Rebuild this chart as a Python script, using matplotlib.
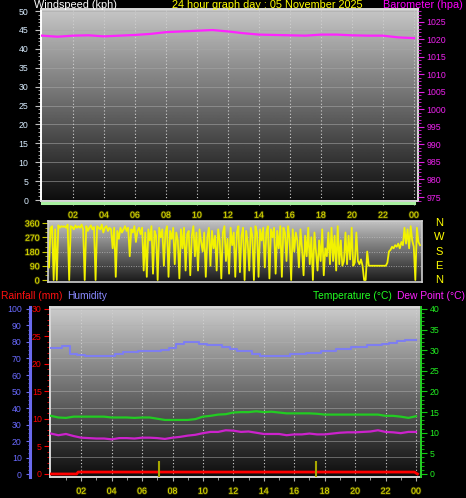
import numpy as np
import matplotlib
matplotlib.use("Agg")
import matplotlib.pyplot as plt
import matplotlib.patheffects as pe
from matplotlib.transforms import blended_transform_factory, ScaledTranslation

plt.rcParams['font.family'] = ['Liberation Sans', 'DejaVu Sans']

# ---------------- data ----------------
hour_ticks = [2, 4, 6, 8, 10, 12, 14, 16, 18, 20, 22, 24]
hour_labels = ['02', '04', '06', '08', '10', '12', '14', '16', '18', '20', '22', '00']

baro_hours = list(range(25))
baro_hpa = [1021.0, 1020.7, 1021.0, 1021.1, 1020.8, 1021.0, 1021.2, 1021.5, 1022.0,
            1022.2, 1022.4, 1022.6, 1022.2, 1021.7, 1021.3, 1021.2, 1021.1, 1021.0,
            1021.3, 1021.3, 1021.1, 1021.0, 1021.0, 1020.5, 1020.3]
wind_kph = [0] * 25

wind_dir = [
    80, 330, 340, 0, 320, 0, 345, 330, 340, 335,
    340, 330, 350, 0, 340, 335, 320, 345, 330, 340,
    330, 350, 320, 0, 340, 310, 330, 345, 320, 335,
    0, 340, 330, 320, 350, 300, 330, 340, 310, 330,
    320, 200, 330, 20, 310, 260, 330, 300, 320, 340,
    310, 330, 150, 320, 300, 340, 240, 310, 330, 290,
    330, 60, 300, 20, 320, 250, 340, 40, 310, 280,
    0, 330, 270, 320, 90, 300, 340, 20, 310, 260,
    330, 100, 300, 250, 10, 320, 200, 330, 60, 290,
    310, 30, 280, 340, 150, 300, 60, 320, 240, 180,
    300, 20, 270, 330, 90, 310, 200, 280, 60, 320,
    250, 10, 300, 340, 120, 260, 40, 330, 220, 300,
    20, 300, 340, 50, 280, 330, 0, 310, 240, 60,
    330, 280, 0, 340, 300, 20, 320, 250, 330, 80,
    300, 340, 10, 320, 270, 330, 40, 310, 200, 340,
    20, 330, 300, 120, 340, 260, 0, 320, 180, 300,
    250, 80, 320, 200, 30, 280, 150, 330, 100, 270,
    0, 300, 180, 60, 250, 120, 320, 30, 200, 150,
    300, 100, 330, 120, 280, 60, 340, 100, 250, 90,
    120, 300, 100, 280, 130, 330, 90, 110, 300, 120,
    100, 130, 90, 0, 0, 180, 90, 90, 90, 90,
    90, 90, 90, 90, 90, 90, 90, 90, 110, 180,
    190, 210, 200, 220, 210, 230, 200, 240, 220, 330,
    230, 320, 200, 340, 250, 210, 0, 330, 240, 220,
]
wind_dir_hours = np.linspace(0, 24, len(wind_dir))

half_hours = np.arange(0, 24.5, 0.5)
humidity = [76.5, 76.5, 77.5, 73.0, 72.0, 71.5, 71.5, 71.5, 71.5, 72.5, 73.8, 74.0,
            74.7, 74.7, 74.7, 75.2, 76.5, 78.5, 79.8, 80.0, 79.0, 78.0, 78.0, 77.0,
            75.5, 74.7, 74.7, 72.5, 71.8, 71.5, 71.5, 71.5, 72.5, 72.5, 73.5, 73.5,
            74.7, 74.7, 76.0, 76.0, 77.2, 77.2, 78.0, 78.0, 78.5, 79.6, 80.5, 81.0, 81.0]
temperature = [14.1, 13.7, 13.6, 13.9, 13.9, 13.9, 13.9, 13.9, 13.7, 13.7, 13.7, 13.6,
               13.7, 13.7, 13.4, 13.1, 13.1, 13.1, 13.1, 13.3, 13.9, 14.1, 14.4, 14.5,
               14.9, 15.0, 15.0, 15.2, 15.0, 15.1, 14.9, 14.7, 14.7, 14.7, 14.7, 14.6,
               14.4, 14.4, 14.4, 14.4, 14.4, 14.4, 14.4, 14.4, 14.1, 14.1, 13.9, 13.6, 14.0]
dewpoint = [9.8, 9.4, 9.7, 9.2, 8.8, 8.7, 8.6, 8.6, 8.4, 8.7, 8.7, 8.6,
            8.8, 8.8, 8.7, 8.5, 8.8, 9.0, 9.3, 9.5, 9.9, 10.2, 10.2, 10.6,
            10.5, 10.2, 10.3, 10.0, 9.7, 9.7, 9.7, 9.4, 9.6, 9.6, 9.8, 9.6,
            9.6, 9.8, 10.0, 10.1, 10.1, 10.2, 10.3, 10.6, 10.2, 10.1, 9.9, 10.2, 10.2]
rain_hours = [0, 1.7, 1.8, 23.9, 24.1]
rain_mm = [0, 0, 0.35, 0.35, 0]
rainrate_hours = [7.08, 17.4]
rainrate_vals = [2.4, 2.4]

# ---------------- figure ----------------
W, H = 466, 498
fig = plt.figure(figsize=(W / 100, H / 100), dpi=100, facecolor='black')


def rect(l, t, r, b):
    return [l / W, 1 - b / H, (r - l) / W, (b - t) / H]


def gradient(ax, xl, yl, top, bot):
    g = np.linspace(top, bot, 256).reshape(-1, 1)
    ax.imshow(g, cmap='gray', vmin=0, vmax=1, extent=[xl[0], xl[1], yl[0], yl[1]],
              aspect='auto', origin='upper', zorder=0, interpolation='bilinear')
    ax.set_xlim(*xl)
    ax.set_ylim(*yl)


YEL = '#f0f000'
stroke = [pe.withStroke(linewidth=1.2, foreground='#3a3a00')]
TICKFS = 6.3
HDRFS = 7.8
BHDRFS = 7.4

# ---- top panel: wind speed / barometer ----
ax1 = fig.add_axes(rect(41, 9, 418, 201))
xl1 = (-0.065, 24.26)
yl1 = (-0.25, 50.54)
gradient(ax1, xl1, yl1, 0.78, 0.05)
for v in range(0, 51, 5):
    ax1.axhline(v, color='#a8a8a8', lw=0.7, alpha=0.55, zorder=1)
for h in hour_ticks:
    ax1.axvline(h, color='#d0d0d0', lw=0.8, ls=(0, (1, 2)), zorder=1)
ax1.plot(baro_hours, wind_kph, color='#a8f0a0', lw=2.2, zorder=3, clip_on=False,
         transform=ax1.transData + ScaledTranslation(0, -3 / 100, fig.dpi_scale_trans))
ax1.set_yticks(range(0, 51, 5))
ax1.set_yticks(range(0, 51, 1), minor=True)
ax1.set_xticks(hour_ticks)
ax1.set_xticklabels(hour_labels)
ax1.set_xticks(range(1, 25), minor=True)
ax1.tick_params(axis='y', which='both', colors='#c0c0c0', labelcolor='#d8ecff',
                labelsize=TICKFS, length=4, pad=5)
ax1.tick_params(axis='y', which='minor', length=2)
ax1.tick_params(axis='x', which='both', colors='#b0b0b0', labelcolor=YEL,
                labelsize=TICKFS, length=3, pad=4)
ax1.tick_params(axis='x', which='minor', length=2)
for t in ax1.get_xticklabels():
    t.set_path_effects(stroke)
for s in ax1.spines.values():
    s.set_color('#d8d8d8')
    s.set_linewidth(1.4)
ax1.spines['left'].set_color('white')

ax1b = ax1.twinx()
ax1b.set_ylim(973.86, 1028.6)
ax1b.plot(baro_hours, baro_hpa, color='#ff22ff', lw=1.6, zorder=3)
ax1b.set_yticks(range(975, 1026, 5))
ax1b.set_yticks(range(974, 1029, 1), minor=True)
ax1b.tick_params(axis='y', which='both', colors='#e020e0', labelcolor='#ee22ee',
                 labelsize=TICKFS, length=4, pad=2)
ax1b.tick_params(axis='y', which='minor', length=2)
for s in ax1b.spines.values():
    s.set_visible(False)

fig.text(34 / W, 1 - 8 / H, 'Windspeed (kph)', color='white', fontsize=HDRFS,
         va='baseline')
fig.text(172 / W, 1 - 8 / H, '24 hour graph day : 05 November 2025', color='#ffff00',
         fontsize=HDRFS, va='baseline')
fig.text(463 / W, 1 - 8 / H, 'Barometer (hpa)', color='#ff00ff', fontsize=HDRFS,
         va='baseline', ha='right')

# ---- wind direction panel ----
ax2 = fig.add_axes(rect(48, 221, 422, 282))
xl2 = (-0.065, 24.13)
yl2 = (-12.6, 372.6)
gradient(ax2, xl2, yl2, 0.76, 0.10)
for v in [90, 180, 270, 360]:
    ax2.axhline(v, color='#c0c0c0', lw=0.7, ls=(0, (1, 1.5)), alpha=0.7, zorder=1)
ax2.plot(wind_dir_hours, wind_dir, color='#f2f200', lw=1.3, zorder=3)
ax2.set_yticks([0, 90, 180, 270, 360])
ax2.set_yticks(range(0, 361, 30), minor=True)
ax2.set_xticks([])
ax2.tick_params(axis='y', which='both', colors='#c8c800', labelcolor=YEL,
                labelsize=TICKFS, length=4, pad=2)
ax2.tick_params(axis='y', which='minor', length=2)
for t in ax2.get_yticklabels():
    t.set_path_effects(stroke)
for s in ax2.spines.values():
    s.set_color('#d0d0d0')
    s.set_linewidth(1.2)
tr = blended_transform_factory(fig.transFigure, ax2.transData)
for lab, v in zip(['N', 'W', 'S', 'E', 'N'], [360, 270, 180, 90, 0]):
    ax2.text(439 / W, v, lab, transform=tr, color='#ffff00', fontsize=8,
             ha='center', va='center', clip_on=False)

# ---- bottom panel: rain / humidity / temperature / dew point ----
fig.text(1 / W, 1 - 296 / H, 'Rainfall (mm)', color='#ff1010', fontsize=BHDRFS,
         va='center')
fig.text(67 / W, 1 - 296 / H, 'Humidity', color='#8a8aff', fontsize=BHDRFS,
         va='center')
fig.text(313 / W, 1 - 296 / H, 'Temperature (°C)', color='#22ff22', fontsize=BHDRFS,
         va='center')
fig.text(465 / W, 1 - 296 / H, 'Dew Point (°C)', color='#ff22ff', fontsize=BHDRFS,
         va='center', ha='right')

ax3 = fig.add_axes(rect(50, 307, 421, 477))
xl3 = (-0.05, 24.33)
yl3 = (-0.55, 30.36)
gradient(ax3, xl3, yl3, 0.80, 0.05)
for h in hour_ticks:
    ax3.axvline(h, color='#d0d0d0', lw=0.8, ls=(0, (1, 2)), zorder=1)
for v in range(10, 101, 10):
    ax3.axhline(v * 0.3, color='#b0b0b0', lw=0.7, alpha=0.5, zorder=1)
ax3.plot(rain_hours, rain_mm, color='#ff0000', lw=2.0, zorder=4)
ax3.vlines(rainrate_hours, yl3[0], rainrate_vals, color='#a8a800', lw=1.5, zorder=4)
ax3.set_yticks(range(0, 31, 5))
ax3.set_yticks(range(0, 31, 1), minor=True)
ax3.set_xticks(hour_ticks)
ax3.set_xticklabels(hour_labels)
ax3.set_xticks(range(1, 25), minor=True)
ax3.tick_params(axis='y', which='both', colors='#ff0000', labelcolor='#ff0000',
                labelsize=TICKFS, length=4, pad=2)
ax3.tick_params(axis='y', which='minor', length=2)
ax3.tick_params(axis='x', which='both', colors='#b0b0b0', labelcolor=YEL,
                labelsize=TICKFS, length=3, pad=4)
ax3.tick_params(axis='x', which='minor', length=2)
for t in ax3.get_xticklabels():
    t.set_path_effects(stroke)
for s in ax3.spines.values():
    s.set_color('#d8d8d8')
    s.set_linewidth(1.4)

ax3h = ax3.twinx()
ax3h.set_ylim(-1.8, 101.2)
ax3h.plot(half_hours, humidity, color='#7e7ef0', lw=1.5, zorder=3, drawstyle='steps-mid')
ax3h.yaxis.set_ticks_position('left')
ax3h.yaxis.set_label_position('left')
ax3h.spines['left'].set_position(('outward', 20 * 0.72))
ax3h.spines['left'].set_color('#6a6aee')
ax3h.spines['left'].set_linewidth(2.2)
for k in ['right', 'top', 'bottom']:
    ax3h.spines[k].set_visible(False)
ax3h.set_yticks(range(0, 101, 10))
ax3h.set_yticks(np.arange(0, 101, 2.5), minor=True)
ax3h.tick_params(axis='y', which='both', colors='#6a6aee', labelcolor='#6a6aff',
                 labelsize=TICKFS, length=3, pad=3)
ax3h.tick_params(axis='y', which='minor', length=1.5)

ax3t = ax3.twinx()
ax3t.set_ylim(-0.73, 40.48)
ax3t.plot(half_hours, temperature, color='#22cc22', lw=1.6, zorder=3)
ax3t.plot(half_hours, dewpoint, color='#cc22cc', lw=1.6, zorder=3)
ax3t.set_yticks(range(0, 41, 5))
ax3t.set_yticks(range(0, 41, 1), minor=True)
ax3t.tick_params(axis='y', which='both', colors='#11cc11', labelcolor='#22ee22',
                 labelsize=TICKFS, length=4, pad=2)
ax3t.tick_params(axis='y', which='minor', length=2)
for k in ['left', 'top', 'bottom']:
    ax3t.spines[k].set_visible(False)
ax3t.spines['right'].set_color('#22cc22')
ax3t.spines['right'].set_linewidth(1.4)

fig.savefig('out.png', dpi=100, facecolor='black')
